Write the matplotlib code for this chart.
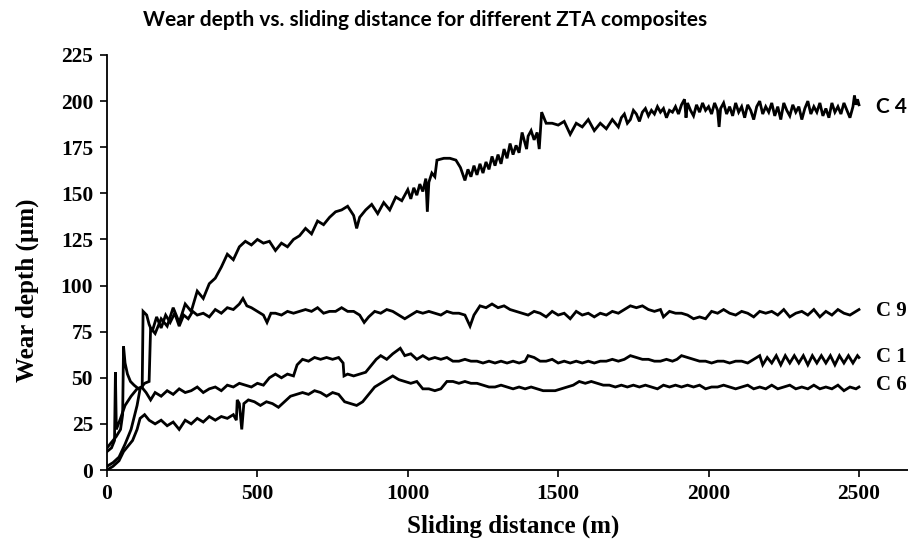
import matplotlib
matplotlib.use("Agg")
import matplotlib.pyplot as plt

# ---------------- data ----------------
c4_dist = [0, 20, 40, 60, 80, 100, 110, 125, 140, 145, 160, 180, 200, 220, 240, 260, 280, 300,
           320, 340, 360, 380, 400, 420, 440, 460, 480, 500, 520, 540, 560, 580, 600, 620, 640,
           660, 680, 700, 720, 740, 760, 780, 800, 820, 830, 840, 860, 880, 900, 920, 940, 960,
           980, 1000, 1010, 1020, 1030, 1040, 1050, 1060, 1065, 1070, 1080, 1090, 1097, 1120,
           1140, 1160, 1175, 1190, 1200, 1210, 1220, 1230, 1240, 1250, 1260, 1270, 1280, 1290,
           1300, 1310, 1320, 1330, 1340, 1350, 1360, 1370, 1380, 1390, 1395, 1400, 1410, 1420,
           1430, 1437, 1445, 1460, 1480, 1500, 1520, 1540, 1560, 1580, 1600, 1620, 1640, 1660,
           1680, 1700, 1710, 1720, 1730, 1740, 1750, 1760, 1770, 1780, 1790, 1800, 1810, 1820,
           1830, 1840, 1850, 1860, 1870, 1880, 1890, 1900, 1910, 1920, 1925, 1930, 1940, 1950,
           1960, 1970, 1980, 1990, 2000, 2010, 2020, 2030, 2035, 2040, 2050, 2060, 2070, 2080,
           2090, 2100, 2110, 2120, 2130, 2140, 2150, 2160, 2170, 2180, 2190, 2200, 2210, 2220,
           2230, 2240, 2250, 2260, 2270, 2280, 2290, 2300, 2310, 2320, 2330, 2340, 2350, 2360,
           2370, 2380, 2390, 2400, 2410, 2420, 2430, 2440, 2450, 2460, 2470, 2480, 2485, 2490,
           2495, 2500]
c4_depth = [2, 4, 7, 14, 22, 35, 44, 47, 48, 77, 74, 82, 78, 88, 80, 90, 86, 97,
            93, 101, 104, 110, 117, 114, 121, 124, 122, 125, 123, 124, 119, 123, 121, 125, 127,
            131, 128, 135, 133, 137, 140, 141, 143, 138, 131, 137, 141, 144, 139, 145, 141, 148,
            146, 152, 147, 153, 149, 155, 151, 158, 140, 156, 161, 159, 168, 169,
            169, 168, 164, 157, 163, 159, 165, 160, 166, 161, 167, 163, 170, 165,
            171, 166, 174, 169, 177, 171, 176, 172, 183, 177, 174, 181, 184, 179,
            183, 174, 194, 188, 188, 187, 189, 182, 188, 186, 190, 184, 188, 185,
            190, 186, 191, 193, 188, 190, 195, 193, 189, 194, 196, 192, 195, 193,
            197, 194, 196, 191, 195, 194, 197, 193, 198, 201, 191, 199, 195, 192,
            198, 194, 199, 195, 197, 193, 199, 195, 186, 196, 199, 193, 197, 192,
            199, 194, 197, 191, 198, 195, 190, 197, 200, 193, 197, 194, 199, 192,
            197, 190, 199, 195, 192, 198, 194, 197, 190, 196, 200, 193, 197, 194,
            199, 192, 196, 191, 199, 194, 197, 193, 199, 195, 191, 197, 203, 198,
            201, 198]

c9_dist = [0, 15, 30, 45, 52, 55, 60, 68, 78, 90, 105, 117, 120, 132, 140, 150, 165, 180, 195,
           210, 225, 240, 255, 270, 285, 300, 320, 340, 360, 380, 400, 420, 440, 452, 465, 480,
           500, 520, 532, 545, 560, 580, 600, 620, 640, 660, 680, 700, 720, 740, 760, 780, 800,
           820, 840, 855, 870, 890, 910, 930, 950, 970, 990, 1010, 1030, 1050, 1070, 1090, 1110,
           1130, 1150, 1170, 1190, 1207, 1220, 1240, 1260, 1280, 1300, 1320, 1340, 1360, 1380,
           1400, 1420, 1440, 1460, 1480, 1500, 1520, 1540, 1560, 1580, 1600, 1620, 1640, 1660,
           1680, 1700, 1720, 1740, 1760, 1780, 1800, 1820, 1840, 1850, 1870, 1890, 1910, 1930,
           1950, 1970, 1990, 2010, 2030, 2050, 2070, 2090, 2110, 2130, 2150, 2170, 2190, 2210,
           2230, 2250, 2270, 2290, 2310, 2330, 2350, 2370, 2390, 2410, 2430, 2450, 2470, 2490,
           2500]
c9_depth = [12, 15, 18, 22, 30, 67, 58, 52, 48, 46, 44, 45, 86, 84, 79, 75, 83, 77, 84,
            80, 85, 78, 84, 82, 86, 84, 85, 83, 87, 85, 88, 87, 90, 93, 89, 88,
            86, 84, 80, 85, 85, 84, 86, 85, 86, 87, 86, 88, 85, 86, 86, 88, 86,
            86, 84, 80, 83, 86, 85, 87, 86, 84, 82, 84, 86, 85, 86, 85, 84,
            86, 85, 85, 84, 78, 84, 89, 88, 90, 88, 89, 87, 86, 85,
            84, 86, 85, 83, 86, 84, 85, 82, 86, 84, 85, 83, 85, 84,
            86, 85, 87, 89, 88, 89, 87, 86, 87, 83, 86, 85, 85, 84,
            82, 83, 82, 86, 85, 87, 85, 84, 86, 85, 83, 86, 85, 86,
            84, 87, 83, 85, 86, 84, 87, 83, 86, 84, 87, 85, 84, 86,
            87]

c1_dist = [0, 15, 25, 28, 31, 45, 60, 80, 100, 115, 130, 145, 160, 180, 200, 220, 240, 260,
           280, 300, 320, 340, 360, 380, 400, 420, 440, 460, 480, 500, 520, 540, 560, 580, 600,
           620, 632, 650, 670, 690, 710, 730, 750, 770, 785, 788, 800, 820, 840, 860, 875, 895,
           910, 930, 950, 975, 990, 1010, 1030, 1050, 1070, 1090, 1110, 1130, 1150, 1170, 1190,
           1210, 1230, 1250, 1270, 1290, 1310, 1330, 1350, 1370, 1390, 1400, 1420, 1440, 1460,
           1480, 1500, 1520, 1540, 1560, 1580, 1600, 1620, 1640, 1660, 1680, 1700, 1720, 1740,
           1760, 1780, 1800, 1820, 1840, 1860, 1880, 1895, 1910, 1930, 1950, 1970, 1990, 2010,
           2030, 2050, 2070, 2090, 2110, 2130, 2150, 2170, 2180, 2195, 2210, 2225, 2240, 2255,
           2270, 2285, 2300, 2315, 2330, 2345, 2360, 2375, 2390, 2405, 2420, 2435, 2450, 2465,
           2480, 2495, 2500]
c1_depth = [10, 12, 16, 53, 22, 28, 35, 40, 44, 45, 42, 38, 42, 40, 43, 41, 44, 42,
            43, 45, 42, 44, 45, 43, 46, 45, 47, 46, 45, 47, 46, 50, 52, 50, 52,
            51, 57, 60, 59, 61, 60, 61, 60, 61, 58, 51, 52, 51, 52, 53, 56, 60,
            62, 60, 63, 66, 62, 63, 60, 62, 60, 61, 60, 61, 59, 59, 60,
            59, 59, 58, 59, 58, 59, 58, 59, 58, 59, 62, 61, 59, 59,
            60, 58, 59, 58, 59, 58, 59, 58, 59, 59, 60, 59, 60, 62,
            61, 60, 60, 59, 59, 60, 59, 60, 62, 61, 60, 59, 59, 58,
            59, 59, 58, 59, 59, 58, 60, 62, 57, 61, 58, 62, 57, 62,
            58, 62, 58, 62, 57, 62, 58, 62, 58, 62, 57, 62, 58, 62,
            58, 62, 61]

c6_dist = [0, 20, 40, 55, 70, 85, 100, 110, 125, 140, 160, 180, 200, 220, 240, 260, 280, 300,
           320, 340, 360, 380, 400, 420, 430, 433, 440, 448, 455, 470, 490, 510, 530, 550, 570,
           590, 610, 630, 650, 670, 690, 710, 730, 750, 770, 790, 810, 830, 850, 870, 890, 910,
           930, 950, 970, 990, 1010, 1030, 1050, 1070, 1090, 1110, 1130, 1150, 1170, 1190, 1210,
           1230, 1250, 1270, 1290, 1310, 1330, 1350, 1370, 1390, 1410, 1430, 1450, 1470, 1490,
           1510, 1530, 1550, 1570, 1590, 1610, 1630, 1650, 1670, 1690, 1710, 1730, 1750, 1770,
           1790, 1810, 1830, 1850, 1870, 1890, 1910, 1930, 1950, 1970, 1990, 2010, 2030, 2050,
           2070, 2090, 2110, 2130, 2150, 2170, 2190, 2210, 2230, 2250, 2270, 2290, 2310, 2330,
           2350, 2370, 2390, 2410, 2430, 2450, 2470, 2490, 2500]
c6_depth = [0, 2, 5, 10, 13, 16, 22, 28, 30, 27, 25, 27, 24, 26, 22, 27, 25, 28,
            26, 29, 27, 29, 28, 30, 27, 38, 36, 22, 36, 38, 37, 35, 37, 36, 34,
            37, 40, 41, 42, 41, 43, 42, 40, 42, 41, 37, 36, 35, 37, 41, 45, 47,
            49, 51, 49, 48, 47, 48, 44, 44, 43, 44, 48, 48, 47, 48, 47,
            47, 46, 45, 45, 46, 45, 44, 45, 44, 45, 44, 43, 43, 43,
            44, 45, 46, 48, 47, 48, 47, 46, 46, 45, 46, 45, 46, 45,
            46, 45, 44, 46, 45, 46, 45, 46, 45, 46, 44, 45, 45, 46,
            45, 44, 45, 46, 44, 45, 44, 46, 44, 45, 46, 44, 45, 44,
            46, 44, 45, 44, 46, 43, 45, 44, 45]

series_names = ["C 4", "C 9", "C 1", "C 6"]
label_depths = [197, 86, 61, 46]

x_ticks = [0, 500, 1000, 1500, 2000, 2500]
y_ticks = [0, 25, 50, 75, 100, 125, 150, 175, 200, 225]

title_text = "Wear depth vs. sliding distance for different ZTA composites"
x_label = "Sliding distance (m)"
y_label = "Wear depth (\u00b5m)"

# ---------------- figure ----------------
W, H = 908, 548
fig = plt.figure(figsize=(W / 100, H / 100), dpi=100)
ax = fig.add_axes([107 / W, (H - 470) / H, (908 - 107) / W, (470 - 55) / H])

series = [(c4_dist, c4_depth), (c9_dist, c9_depth), (c1_dist, c1_depth), (c6_dist, c6_depth)]
for d, v in series:
    ax.plot(d, v, color="black", lw=2.0, solid_joinstyle="miter")

ax.set_xlim(0, 2663)
ax.set_ylim(0, 225)
ax.set_xticks(x_ticks)
ax.set_yticks(y_ticks)

serif = ["Liberation Serif", "DejaVu Serif"]
ax.set_xticklabels([str(t) for t in x_ticks], family=serif, fontweight="bold", fontsize=15.5)
ax.set_yticklabels([str(t) for t in y_ticks], family=serif, fontweight="bold", fontsize=15.5)

for s in ["top", "right"]:
    ax.spines[s].set_visible(False)
for s in ["left", "bottom"]:
    ax.spines[s].set_linewidth(1.3)
ax.tick_params(direction="out", length=5, width=1.2, pad=5, colors="black")

# series labels
label_fonts = [(["Lato", "DejaVu Sans"], "bold"), (serif, "bold"), (serif, "bold"), (serif, "bold")]
for name, yv, (fam, fw) in zip(series_names, label_depths, label_fonts):
    ax.text(2558, yv, name, family=fam, fontweight=fw, fontsize=15, va="center", ha="left",
            clip_on=False)

fig.text(143 / W, 1 - 20 / H, title_text, family=["Lato", "DejaVu Sans"], fontweight="bold",
         fontsize=15, ha="left", va="center")
fig.text(513 / W, 1 - 526 / H, x_label, family=serif, fontweight="bold", fontsize=18,
         ha="center", va="center")
fig.text(27 / W, 1 - 290 / H, y_label, family=serif, fontweight="bold", fontsize=18,
         ha="center", va="center", rotation=90)

fig.savefig("out.png", dpi=100)
